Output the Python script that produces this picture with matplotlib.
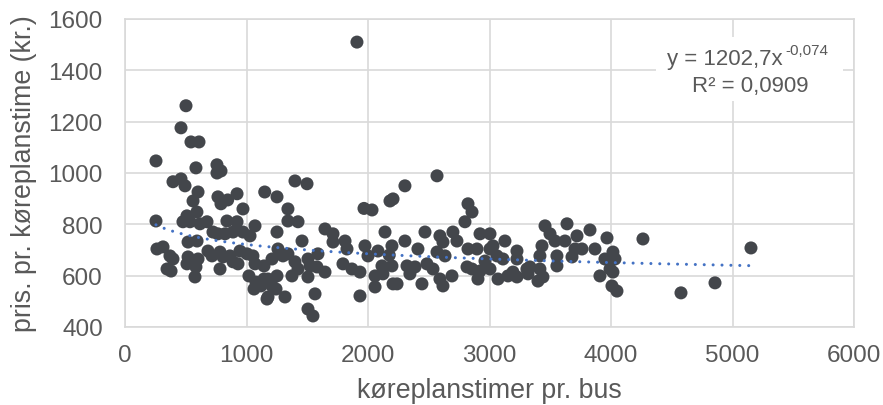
import matplotlib
matplotlib.use("Agg")
import matplotlib.pyplot as plt
import matplotlib.patches as mpatches
import numpy as np

plt.rcParams['font.family'] = ['Liberation Sans', 'DejaVu Sans']

# køreplanstimer pr. bus
hours = [
    255, 461, 502, 543, 609, 584, 757, 790, 757, 461,
    395, 494, 601, 560, 765, 790, 845, 922, 971, 1150,
    255, 510, 592, 477, 535, 617, 675, 724, 765, 839, 922, 1070, 823, 889, 971, 1029,
    593, 519, 263, 313, 370, 395, 346, 510, 519, 601, 683, 716, 782, 807, 864, 889,
    946, 1004, 1053, 1070, 782, 930, 576, 1020, 1078, 1119, 1062, 1169, 379, 584,
    1399, 1498, 1251, 1341, 1341, 1424, 1251, 1457, 1646, 1712, 1712, 1811, 1827,
    1967, 2033, 2181, 2140, 1975, 1259, 1300, 1210, 1341, 1399, 1424, 1374, 1506,
    1588, 1580, 1646, 1506, 1177, 1210, 1177, 1317, 1564, 1506, 1547, 1794, 1868,
    1934, 1934, 2058, 2058, 2000, 2082, 2197, 2206, 2115, 2175, 1523, 2123, 1144,
    1144, 1251, 1243,
    2304, 2206, 2568, 2823, 2856, 2798, 2469, 2304, 2592, 2617, 2699, 2732, 2922,
    3004, 3127, 3226, 2411, 2568, 2634, 2823, 2897, 3004, 3062, 2197, 2321, 2387,
    2485, 2535, 2345, 2239, 2444, 2592, 2617, 2691, 2815, 2856, 2905, 3004, 3070,
    3152, 3193, 2963, 3111, 3029, 2922, 3333,
    3457, 3638, 3827, 3498, 3539, 3621, 3720, 3704, 3761, 3868, 3967, 4016, 4033,
    3950, 3992, 4016, 3909, 4008, 4049, 4263, 3226, 3308, 3317, 3226, 3415, 3440,
    3399, 3432, 3415, 3555, 3555, 3679,
    4576, 4856, 5152, 1909,
]
# pris. pr. køreplanstime (kr.)
price = [
    1047, 1176, 1262, 1121, 1121, 1020, 1032, 1008, 1000, 977,
    966, 950, 926, 891, 907, 880, 895, 919, 860, 926,
    813, 833, 848, 810, 810, 802, 810, 770, 763, 813, 810, 794, 763, 770, 770, 755,
    735, 731, 704, 712, 677, 665, 626, 646, 673, 665, 696, 677, 692, 673, 677, 654,
    696, 685, 677, 646, 626, 646, 595, 599, 575, 560, 548, 509, 618, 634,
    969, 958, 907, 860, 813, 810, 770, 735, 782, 763, 731, 735, 704,
    862, 856, 891, 770, 716, 704, 677, 665, 685, 654, 626, 599, 665,
    685, 634, 614, 595, 587, 560, 517, 517, 529, 470, 443, 646, 626,
    614, 521, 556, 599, 677, 696, 716, 568, 638, 680, 638, 607, 638,
    587, 599, 548,
    950, 899, 989, 880, 848, 810, 770, 735, 755, 731, 770, 735, 763,
    763, 735, 696, 704, 692, 677, 704, 704, 704, 677, 638, 638, 634,
    646, 626, 607, 568, 568, 587, 560, 599, 634, 626, 587, 626, 587,
    599, 614, 657, 665, 716, 618, 634,
    794, 802, 778, 763, 735, 735, 755, 704, 704, 704, 747, 692, 665,
    665, 626, 614, 599, 560, 540, 743, 665, 626, 607, 595, 626, 595,
    579, 716, 677, 677, 638, 673,
    533, 572, 708, 1510,
]

# Power trend line shown on the chart: y = 1202,7 x^-0,074
trend_a = 1202.7
trend_b = -0.074
eq_main = "y = 1202,7x"
eq_exp = "-0,074"
r2_text = "R² = 0,0909"

x_ticks = [0, 1000, 2000, 3000, 4000, 5000, 6000]
y_ticks = [400, 600, 800, 1000, 1200, 1400, 1600]

fig = plt.figure(figsize=(8.83, 4.06), dpi=100)
ax = fig.add_axes([125 / 883, 78 / 406, 729 / 883, 308 / 406])

grid_c = '#D9D9D9'
txt_c = '#595959'
ax.set_xlim(0, 6000)
ax.set_ylim(400, 1600)
ax.set_xticks(x_ticks)
ax.set_yticks(y_ticks)
ax.grid(True, color=grid_c, linewidth=1.2)
ax.set_axisbelow(True)
for s in ax.spines.values():
    s.set_color(grid_c)
    s.set_linewidth(1.2)
ax.tick_params(length=0, labelsize=17.5, labelcolor=txt_c)
ax.tick_params(axis='y', pad=16)
ax.tick_params(axis='x', pad=12)

ax.scatter(hours, price, s=88, color='#43464B', edgecolors='none', zorder=3)

xs = np.linspace(min(hours), max(hours), 300)
ax.plot(xs, trend_a * xs ** trend_b, color='#4472C4', linewidth=2.2,
        linestyle=(0, (0.01, 2.9)), dash_capstyle='round', zorder=4)

# white label box for the trend equation
ax.add_patch(mpatches.Rectangle(((656 - 125) / 729, (328 - 102) / 308),
                                (843 - 656) / 729, (102 - 38) / 308,
                                transform=ax.transAxes, facecolor='white',
                                edgecolor='none', zorder=5))
ax.text(0.9026, 0.854, eq_main, transform=ax.transAxes, ha='right', va='baseline',
        fontsize=16, color=txt_c, zorder=6)
ax.text(0.9060, 0.886, eq_exp, transform=ax.transAxes, ha='left', va='baseline',
        fontsize=11, color=txt_c, zorder=6)
ax.text(0.857, 0.766, r2_text, transform=ax.transAxes, ha='center', va='baseline',
        fontsize=16, color=txt_c, zorder=6)

ax.set_xlabel('køreplanstimer pr. bus', fontsize=19.3, color=txt_c, labelpad=8)
ax.set_ylabel('pris. pr. køreplanstime (kr.)', fontsize=19.3, color=txt_c, labelpad=8)

fig.savefig('out.png', dpi=100)
